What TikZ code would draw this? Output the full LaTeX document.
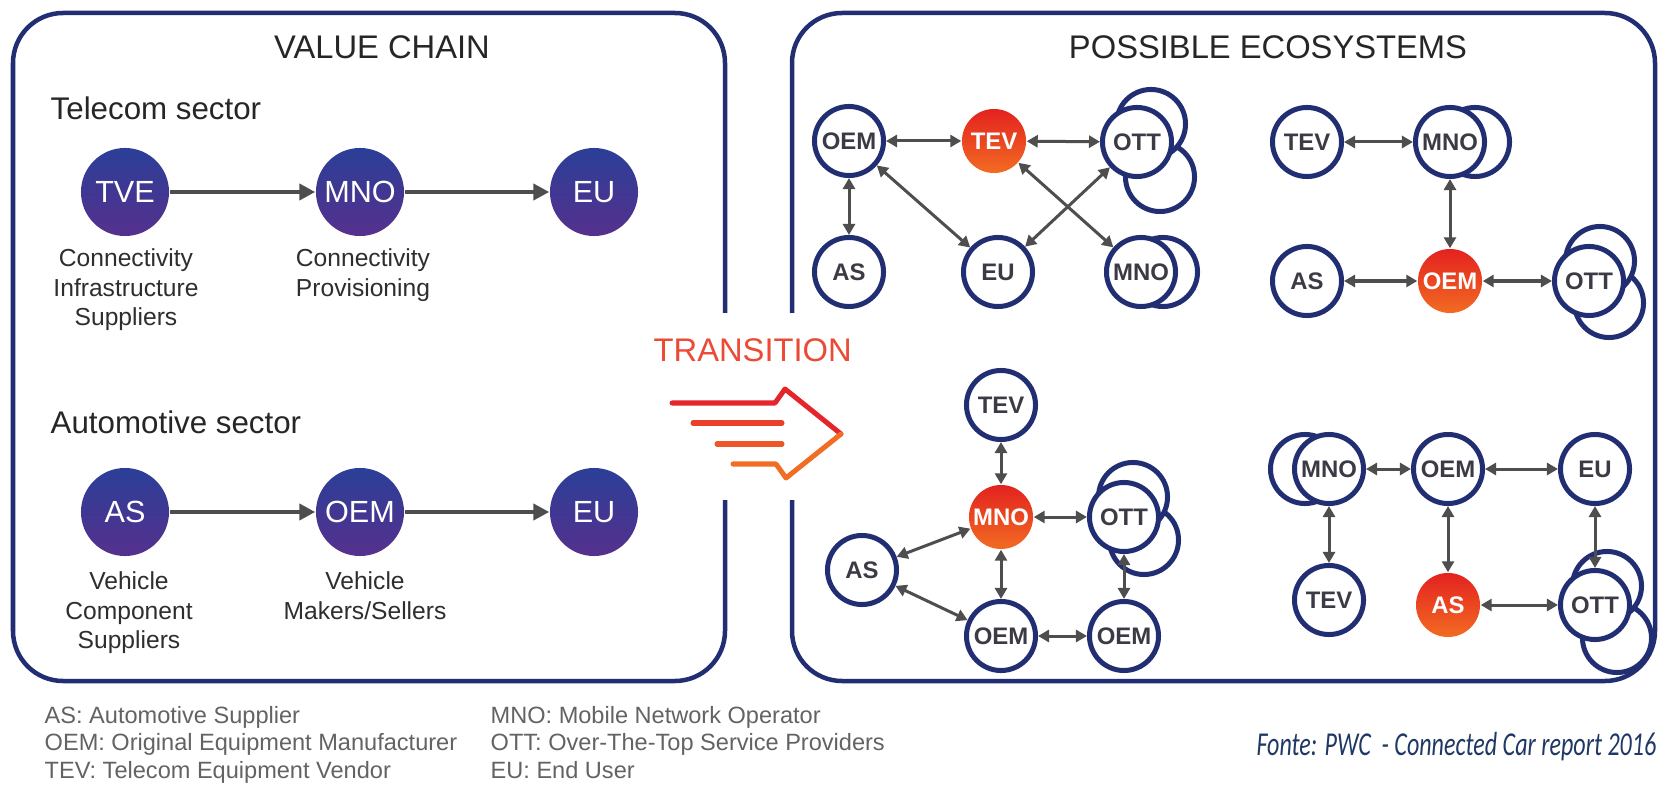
\documentclass[tikz,border=0pt]{standalone}
\usepackage{fontspec}
\setmainfont{Liberation Sans}
\newfontfamily\notefont{Carlito}
\usetikzlibrary{arrows.meta,calc}

\definecolor{navy}{HTML}{222E72}
\definecolor{vctop}{HTML}{2A3F97}
\definecolor{vcbot}{HTML}{56308E}
\definecolor{hotA}{HTML}{E3221F}
\definecolor{hotB}{HTML}{F26B22}
\definecolor{linkgray}{HTML}{4E4E4E}
\definecolor{labgray}{HTML}{3B3B45}
\definecolor{subgray}{HTML}{2E2E2E}
\definecolor{leggray}{HTML}{636363}
\definecolor{notenavy}{HTML}{1F3864}
\definecolor{transred}{HTML}{EB4A36}
\definecolor{arrA}{HTML}{E4252B}
\definecolor{arrB}{HTML}{EA3F2A}
\definecolor{arrC}{HTML}{EE5527}
\definecolor{arrD}{HTML}{F26D24}

\tikzset{
  vc/.style={circle, inner sep=0pt, minimum size=0.88cm, top color=vctop, bottom color=vcbot,
    text=white, font=\fontsize{8.7pt}{10pt}\selectfont},
  vcarrow/.style={-{Triangle[length=0.16cm,width=0.16cm]}, line width=0.04cm, draw=linkgray},
  eco/.style={circle, inner sep=0pt, minimum size=0.69cm, draw=navy, line width=0.05cm, fill=white,
    text=labgray, font=\fontsize{6.8pt}{8pt}\selectfont\bfseries},
  ecohot/.style={circle, inner sep=0pt, minimum size=0.64cm, top color=hotA, bottom color=hotB,
    text=white, font=\fontsize{6.8pt}{8pt}\selectfont\bfseries},
  ecolink/.style={{Triangle[length=0.11cm,width=0.12cm]}-{Triangle[length=0.11cm,width=0.12cm]},
    line width=0.03cm, draw=linkgray},
  panel/.style={draw=navy, line width=0.045cm, rounded corners=0.5cm},
  headtxt/.style={anchor=base, inner sep=0pt, text=black!85, font=\fontsize{9.3pt}{11pt}\selectfont},
  sectortxt/.style={anchor=base west, inner sep=0pt, text=black!85, font=\fontsize{8.9pt}{11pt}\selectfont},
  vclabel/.style={anchor=north, inner sep=0pt, align=center, text=subgray,
    font=\fontsize{7pt}{8.4pt}\selectfont},
  legendtxt/.style={anchor=base west, inner sep=0pt, text=leggray, font=\fontsize{6.7pt}{8pt}\selectfont},
  speedline/.style={line width=0.05cm, line cap=round, line join=round},
}

\begin{document}
\begin{tikzpicture}[x=0.01cm, y=-0.01cm]
\fill[white] (0,0) rectangle (1663,785);
\useasboundingbox (0,0) rectangle (1663,785);

% panels, open where the transition arrow passes
\draw[panel] (725,313) -- (725,13) -- (13,13) -- (13,681) -- (725,681) -- (725,500);
\draw[panel] (792,313) -- (792,13) -- (1655,13) -- (1655,681) -- (792,681) -- (792,500);

% ---------- value chain ----------
\node[headtxt] (vchain) at (382,59) {VALUE CHAIN};
\node[sectortxt] (telecom) at (50,120) {Telecom sector};
\node[sectortxt] (automotive) at (50,433) {Automotive sector};

\node[vc] (tve) at (125,192) {TVE};
\node[vc] (mno) at (360,192) {MNO};
\node[vc] (eu)  at (594,192) {EU};
\node[vc] (as)  at (125,512) {AS};
\node[vc] (oem) at (360,512) {OEM};
\node[vc] (eub) at (594,512) {EU};

\draw[vcarrow] (tve) -- (mno);
\draw[vcarrow] (mno) -- (eu);
\draw[vcarrow] (as) -- (oem);
\draw[vcarrow] (oem) -- (eub);

\node[vclabel] (tvetxt) at (126,248) {Connectivity\\Infrastructure\\Suppliers};
\node[vclabel] (mnotxt) at (363,248) {Connectivity\\Provisioning};
\node[vclabel] (astxt)  at (129,571) {Vehicle\\Component\\Suppliers};
\node[vclabel] (oemtxt) at (365,571) {Vehicle\\Makers/Sellers};

% ---------- transition ----------
\node[anchor=base west, inner sep=0pt, text=transred, font=\fontsize{9.3pt}{11pt}\selectfont]
  (transition) at (653,362) {TRANSITION};
\draw[speedline, arrA] (672,403) -- (775,403) -- (785,389) -- (841,434);
\draw[speedline, arrB] (693,423) -- (782,423);
\draw[speedline, arrC] (717,444) -- (782,444);
\draw[speedline, arrD] (841,434) -- (786,478) -- (776,464) -- (733,464);

% ---------- possible ecosystems ----------
\node[headtxt] (possible) at (1268,59) {POSSIBLE ECOSYSTEMS};

% group 1 (TEV centred)
\node[eco] (ottAd) at (1160,177) {};
\node[eco] (ottAu) at (1151,124) {};
\node[eco] (mnoAb) at (1163,272) {};
\node[eco]    (oemA) at (849,141) {OEM};
\node[ecohot] (tevA) at (994,141) {TEV};
\node[eco]    (ottA) at (1137,142) {OTT};
\node[eco]    (asA)  at (849,272) {AS};
\node[eco]    (euA)  at (998,272) {EU};
\node[eco]    (mnoA) at (1141,272) {MNO};
\draw[ecolink] (oemA) -- (tevA);
\draw[ecolink] (tevA) -- (ottA);
\draw[ecolink] (oemA) -- (asA);
\draw[ecolink] (oemA) -- (euA);
\draw[ecolink] (tevA) -- (mnoA);
\draw[ecolink] (ottA) -- (euA);

% group 2 (OEM centred)
\node[eco] (mnoBb) at (1475,142) {};
\node[eco] (ottBd) at (1609,303) {};
\node[eco] (ottBu) at (1600,261) {};
\node[eco]    (tevB) at (1307,142) {TEV};
\node[eco]    (mnoB) at (1450,142) {MNO};
\node[eco]    (asB)  at (1307,281) {AS};
\node[ecohot] (oemB) at (1450,281) {OEM};
\node[eco]    (ottB) at (1589,281) {OTT};
\draw[ecolink] (tevB) -- (mnoB);
\draw[ecolink] (mnoB) -- (oemB);
\draw[ecolink] (asB) -- (oemB);
\draw[ecolink] (oemB) -- (ottB);

% group 3 (MNO centred)
\node[eco] (ottCd) at (1144,540) {};
\node[eco] (ottCu) at (1133,497) {};
\node[eco]    (tevC) at (1001,405) {TEV};
\node[ecohot] (mnoC) at (1001,517) {MNO};
\node[eco]    (ottC) at (1124,517) {OTT};
\node[eco]    (asC)  at (862,570) {AS};
\node[eco]    (oemC) at (1001,636) {OEM};
\node[eco]    (oemD) at (1124,636) {OEM};
\draw[ecolink] (tevC) -- (mnoC);
\draw[ecolink] (mnoC) -- (ottC);
\draw[ecolink] (mnoC) -- (oemC);
\draw[ecolink] (asC) -- (mnoC);
\draw[ecolink] (asC) -- (oemC);
\draw[ecolink] (oemC) -- (oemD);
\draw[ecolink] (ottC) -- (oemD);

% group 4 (AS centred)
\node[eco] (mnoEb) at (1305,469) {};
\node[eco] (ottEd) at (1617,638) {};
\node[eco] (ottEu) at (1607,586) {};
\node[eco]    (mnoE) at (1329,469) {MNO};
\node[eco]    (oemE) at (1448,469) {OEM};
\node[eco]    (euE)  at (1595,469) {EU};
\node[eco]    (tevE) at (1329,600) {TEV};
\node[ecohot] (asE)  at (1448,605) {AS};
\node[eco]    (ottE) at (1595,605) {OTT};
\draw[ecolink] (mnoE) -- (oemE);
\draw[ecolink] (oemE) -- (euE);
\draw[ecolink] (mnoE) -- (tevE);
\draw[ecolink] (oemE) -- (asE);
\draw[ecolink] (euE) -- (ottE);
\draw[ecolink] (asE) -- (ottE);

% ---------- legend and source ----------
\node[legendtxt] (lgas)  at (44,723)   {AS: Automotive Supplier};
\node[legendtxt] (lgoem) at (44,750.5) {OEM: Original Equipment Manufacturer};
\node[legendtxt] (lgtev) at (44,778)   {TEV: Telecom Equipment Vendor};
\node[legendtxt] (lgmno) at (490,723)   {MNO: Mobile Network Operator};
\node[legendtxt] (lgott) at (490,750.5) {OTT: Over-The-Top Service Providers};
\node[legendtxt] (lgeu)  at (490,778)   {EU: End User};
\node[anchor=base east, inner sep=0pt, text=notenavy,
  font=\notefont\itshape\fontsize{9.5pt}{11pt}\selectfont]
  (source) at (1657,755) {\scalebox{0.72}[1]{Fonte: PWC\ \ - Connected Car report 2016}};
\end{tikzpicture}
\end{document}
